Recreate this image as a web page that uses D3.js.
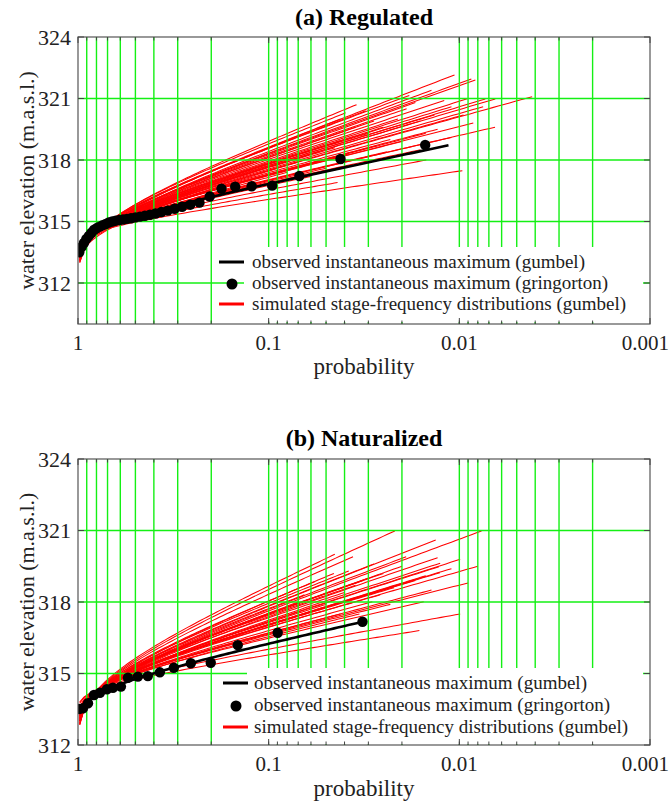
<!DOCTYPE html>
<html><head><meta charset="utf-8">
<script src="https://cdn.jsdelivr.net/npm/d3@7"></script>
<style>
body{margin:0;background:#fff}
text{font-family:"Liberation Serif","Times New Roman","DejaVu Serif",serif;fill:#222}
</style>
</head><body><svg id="c" width="671" height="806"></svg>
<script>
// ---------- data ----------
const xTickValues = [1, 0.1, 0.01, 0.001];
const xTickLabels = ["1", "0.1", "0.01", "0.001"];
const yTickValues = [312, 315, 318, 321, 324];
const gridProbs = [0.9,0.8,0.7,0.6,0.5,0.4,0.3,0.2,0.1,0.09,0.08,0.07,0.06,0.05,0.04,0.03,0.02,0.01,0.009,0.008,0.007,0.006,0.005,0.004,0.003,0.002];
const gridElevA = [312, 315, 318, 321];
const gridElevB = [315, 318, 321];
const legendLabels = ["observed instantaneous maximum (gumbel)", "observed instantaneous maximum (gringorton)", "simulated stage-frequency distributions (gumbel)"];

// (a) Regulated - observed (gringorton plotting positions)
const obsProbA = [0.0151,0.0420,0.0690,0.0959,0.1228,0.1498,0.1767,0.2037,0.2306,0.2575,0.2845,0.3114,0.3384,0.3653,0.3922,0.4192,0.4461,0.4731,0.5,0.5269,0.5539,0.5808,0.6078,0.6347,0.6616,0.6886,0.7155,0.7425,0.7694,0.7963,0.8233,0.8502,0.8772,0.9041,0.931,0.958,0.9849];
const obsElevA = [318.73,318.05,317.22,316.75,316.72,316.70,316.60,316.22,315.92,315.82,315.72,315.62,315.53,315.46,315.39,315.33,315.28,315.24,315.20,315.16,315.13,315.10,315.07,315.04,315.00,314.95,314.88,314.82,314.75,314.68,314.60,314.45,314.30,314.15,313.95,313.75,313.50];
// observed gumbel fit (location, scale, probability range)
const fitA = {loc: 314.92, scale: 0.85, pStart: 0.985, pEnd: 0.0114};

// (a) simulated gumbel curves: elevation at start, end probability, end elevation
const simStartA = [313.0,313.1,313.2,313.3,313.35,313.45,313.6,313.95,313.85,313.0,313.1,313.2,313.9,313.3,313.25,313.3,313.4,313.4,313.3,313.4,313.2,313.5,313.5,313.5,313.45,313.4,313.3,313.2,313.3,313.4,313.55,313.6,313.6,313.55,313.3,313.7,313.75,313.75,313.7,313.65,313.65,313.25,313.1,313.1,313.05,313.2,313.4,313.8];
const simEndPA  = [0.0106,0.00865,0.00824,0.00731,0.00648,0.00415,0.00845,0.00964,0.0149,0.0346,0.0395,0.0183,0.0435,0.0189,0.012,0.011,0.0135,0.016,0.021,0.025,0.028,0.03,0.023,0.013,0.0095,0.0075,0.009,0.017,0.04,0.045,0.038,0.027,0.02,0.015,0.055,0.05,0.033,0.06,0.024,0.011,0.0065,0.035,0.042,0.031,0.014,0.07,0.08,0.016];
const simEndVA  = [322.15,321.95,321.9,320.98,320.98,321.09,319.8,317.48,318.0,320.7,320.3,321.15,316.9,320.5,320.9,320.6,320.2,319.9,320.0,319.6,319.9,319.3,319.0,319.5,320.2,320.6,321.0,320.8,319.0,318.6,318.3,318.7,318.9,319.3,318.4,317.6,317.8,317.2,318.4,319.1,319.6,319.6,320.0,320.4,321.4,317.9,317.4,318.5];

// (b) Naturalized
const obsProbB = [0.0322,0.0897,0.1453,0.2013,0.256,0.3143,0.3722,0.4303,0.4853,0.547,0.5954,0.656,0.705,0.767,0.8245,0.8863,0.9415,0.988];
const obsElevB = [317.17,316.71,316.19,315.45,315.43,315.24,315.05,314.89,314.87,314.82,314.45,314.40,314.34,314.19,314.10,313.75,313.54,313.51];
const fitB = {loc: 314.48, scale: 0.786, pStart: 0.985, pEnd: 0.0322};

const simStartB = [312.85,312.95,313.0,312.9,313.1,313.2,313.3,313.6,313.4,313.75,313.8,313.5,312.9,313.15,313.2,312.85,313.0,313.1,313.2,313.2,313.25,313.3,313.3,313.35,313.25,313.3,313.45,313.3,313.35,313.0,313.0,313.0,313.15,313.5,313.05,313.45,313.55,313.35,313.5,313.1];
const simEndPB  = [0.0218,0.0133,0.00765,0.0361,0.013,0.0099,0.01264,0.01538,0.0286,0.0099,0.0162,0.0334,0.0455,0.0126,0.0128,0.045,0.0575,0.02,0.025,0.03,0.035,0.04,0.017,0.022,0.015,0.011,0.026,0.05,0.06,0.07,0.019,0.028,0.032,0.042,0.038,0.014,0.023,0.008,0.009,0.065];
const simEndVB  = [320.98,320.6,320.98,319.9,319.86,319.79,319.23,318.01,318.01,317.5,316.8,317.5,319.2,319.63,319.48,320.0,318.85,319.5,319.2,319.0,318.7,318.4,318.9,318.6,319.1,319.4,318.3,317.9,317.6,318.0,319.9,319.6,318.9,317.5,319.3,318.5,317.9,319.5,318.8,318.3];

// ---------- drawing ----------
const FONT = '"Liberation Serif","Times New Roman","DejaVu Serif",serif';
const svg = d3.select("#c");
const gumbelVariate = p => -Math.log(-Math.log(1 - p));
const SIM_P0 = 0.98;

const x = d3.scaleLog().domain([1, 0.001]).range([78, 650]);

function gumbelCurve(loc, scale, p0, p1) {
  const l0 = Math.log10(p0), l1 = Math.log10(p1);
  return d3.range(0, 81).map(i => {
    const p = Math.pow(10, l0 + (l1 - l0) * i / 80);
    return [p, loc + scale * gumbelVariate(p)];
  });
}

function txt(g, s) { return g.append("text").attr("font-family", FONT).text(s); }

function drawPanel(cfg) {
  const y = d3.scaleLinear().domain(cfg.yDomain).range([cfg.bottom, cfg.top]);
  const g = svg.append("g");
  const clipId = "clip" + cfg.id;
  g.append("clipPath").attr("id", clipId).append("rect")
    .attr("x", 78).attr("y", cfg.top).attr("width", 650 - 78).attr("height", cfg.bottom - cfg.top);
  const plot = g.append("g").attr("clip-path", `url(#${clipId})`);
  const line = d3.line().x(d => x(d[0])).y(d => y(d[1]));

  // simulated red curves
  cfg.simStart.forEach((v0, k) => {
    const p1 = cfg.simEndP[k], v1 = cfg.simEndV[k];
    const G0 = gumbelVariate(SIM_P0), G1 = gumbelVariate(p1);
    const scale = (v1 - v0) / (G1 - G0);
    const loc = v0 - scale * G0;
    plot.append("path").attr("d", line(gumbelCurve(loc, scale, SIM_P0, p1)))
      .attr("fill", "none").attr("stroke", "#ff0000").attr("stroke-width", 1.05);
  });

  // green grid
  plot.selectAll(".vg").data(gridProbs).enter().append("line")
    .attr("x1", d => x(d)).attr("x2", d => x(d)).attr("y1", cfg.top).attr("y2", cfg.bottom)
    .attr("stroke", "#14f014").attr("stroke-width", 1.4);
  plot.selectAll(".hg").data(cfg.gridElev).enter().append("line")
    .attr("x1", 78).attr("x2", 650).attr("y1", d => y(d)).attr("y2", d => y(d))
    .attr("stroke", "#14f014").attr("stroke-width", 1.4);

  // observed gumbel line
  plot.append("path").attr("d", line(gumbelCurve(cfg.fit.loc, cfg.fit.scale, cfg.fit.pStart, cfg.fit.pEnd)))
    .attr("fill", "none").attr("stroke", "#000").attr("stroke-width", 2.6);

  // observed points
  plot.selectAll(".pt").data(cfg.obsP).enter().append("circle")
    .attr("cx", d => x(d)).attr("cy", (d, i) => y(cfg.obsV[i])).attr("r", 5.2).attr("fill", "#000");

  // legend
  const lb = cfg.legendBox;
  g.append("rect").attr("x", lb[0]).attr("y", lb[1]).attr("width", lb[2] - lb[0]).attr("height", lb[3] - lb[1]).attr("fill", "#fff");
  const ly = cfg.legendY;
  g.append("line").attr("x1", cfg.legSymX - 13).attr("x2", cfg.legSymX + 12).attr("y1", ly[0] - 6).attr("y2", ly[0] - 6).attr("stroke", "#000").attr("stroke-width", 3);
  g.append("circle").attr("cx", cfg.legSymX).attr("cy", ly[1] - 5).attr("r", 5.5).attr("fill", "#000");
  g.append("line").attr("x1", cfg.legSymX - 13).attr("x2", cfg.legSymX + 12).attr("y1", ly[2] - 6).attr("y2", ly[2] - 6).attr("stroke", "#ff0000").attr("stroke-width", 3);
  legendLabels.forEach((t, i) => {
    txt(g, t).attr("x", cfg.legTextX).attr("y", ly[i]).attr("font-size", 19);
  });

  // frame
  g.append("rect").attr("x", 78).attr("y", cfg.top).attr("width", 650 - 78).attr("height", cfg.bottom - cfg.top)
    .attr("fill", "none").attr("stroke", "#555").attr("stroke-width", 1.2);

  // ticks
  const tk = g.append("g").attr("stroke", "#444").attr("stroke-width", 1);
  yTickValues.forEach(v => {
    if (v < cfg.yDomain[0] || v > cfg.yDomain[1]) return;
    tk.append("line").attr("x1", 78).attr("x2", 84).attr("y1", y(v)).attr("y2", y(v));
    tk.append("line").attr("x1", 644).attr("x2", 650).attr("y1", y(v)).attr("y2", y(v));
  });
  xTickValues.forEach(p => {
    tk.append("line").attr("x1", x(p)).attr("x2", x(p)).attr("y1", cfg.bottom).attr("y2", cfg.bottom - 6);
    tk.append("line").attr("x1", x(p)).attr("x2", x(p)).attr("y1", cfg.top).attr("y2", cfg.top + 6);
  });
  gridProbs.forEach(p => {
    tk.append("line").attr("x1", x(p)).attr("x2", x(p)).attr("y1", cfg.bottom).attr("y2", cfg.bottom - 3.5);
    tk.append("line").attr("x1", x(p)).attr("x2", x(p)).attr("y1", cfg.top).attr("y2", cfg.top + 3.5);
  });

  // tick labels
  yTickValues.forEach(v => {
    if (v < cfg.yDomain[0] || v > cfg.yDomain[1]) return;
    txt(g, v).attr("x", 71).attr("y", y(v) + 7.5).attr("text-anchor", "end").attr("font-size", 22);
  });
  xTickValues.forEach((p, i) => {
    const last = i === xTickValues.length - 1;
    txt(g, xTickLabels[i]).attr("x", last ? 669 : x(p)).attr("y", cfg.bottom + 26)
      .attr("text-anchor", last ? "end" : "middle").attr("font-size", 21);
  });

  // axis titles
  txt(g, "probability").attr("x", 364).attr("y", cfg.xLabelY).attr("text-anchor", "middle").attr("font-size", 23);
  txt(g, "water elevation (m.a.s.l.)").attr("transform", `translate(34,${(cfg.top + cfg.bottom) / 2}) rotate(-90)`)
    .attr("text-anchor", "middle").attr("font-size", 22);
  txt(g, cfg.title).attr("x", 364).attr("y", cfg.titleY).attr("text-anchor", "middle")
    .attr("font-size", 24).attr("font-weight", "bold").style("fill", "#000");
}

drawPanel({id: "a", title: "(a) Regulated", yDomain: [310, 324], top: 37, bottom: 324,
  gridElev: gridElevA, simStart: simStartA, simEndP: simEndPA, simEndV: simEndVA,
  obsP: obsProbA, obsV: obsElevA, fit: fitA,
  legendBox: [244, 247, 643, 322], legendY: [268, 289, 310], legSymX: 232, legTextX: 252,
  titleY: 25, xLabelY: 374});

drawPanel({id: "b", title: "(b) Naturalized", yDomain: [312, 324], top: 459, bottom: 745,
  gridElev: gridElevB, simStart: simStartB, simEndP: simEndPB, simEndV: simEndVB,
  obsP: obsProbB, obsV: obsElevB, fit: fitB,
  legendBox: [247, 668, 643, 744], legendY: [689, 711, 733], legSymX: 236, legTextX: 254,
  titleY: 446, xLabelY: 796});
</script>
</body></html>
